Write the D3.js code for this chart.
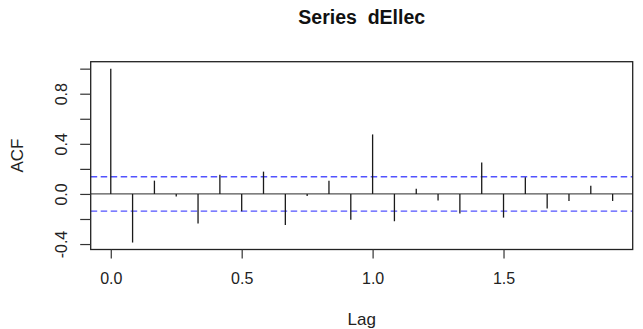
<!DOCTYPE html>
<html>
<head>
<meta charset="utf-8">
<script src="https://cdn.jsdelivr.net/npm/d3@7"></script>
<style>
  html, body { margin: 0; padding: 0; background: #ffffff; }
  svg { display: block; font-family: "Liberation Sans", Arial, sans-serif; }
  .keep-space { white-space: pre; }
</style>
</head>
<body>
<svg id="chart" width="643" height="329"></svg>
<script>
// Sample autocorrelation of the differenced electricity series (monthly, lag in years)
const lags = [0, 0.0833, 0.1667, 0.25, 0.3333, 0.4167, 0.5, 0.5833, 0.6667, 0.75, 0.8333, 0.9167,
              1, 1.0833, 1.1667, 1.25, 1.3333, 1.4167, 1.5, 1.5833, 1.6667, 1.75, 1.8333, 1.9167];
const acfValues = [1.0, -0.388, 0.106, -0.021, -0.236, 0.154, -0.138, 0.178, -0.247, -0.016, 0.106, -0.207,
                   0.475, -0.218, 0.042, -0.053, -0.157, 0.250, -0.189, 0.133, -0.117, -0.056, 0.066, -0.056];
const confLimit = 0.137;
const xTicks = [0, 0.5, 1.0, 1.5];
const yTicks = [-0.4, -0.2, 0.0, 0.2, 0.4, 0.6, 0.8, 1.0];
const yLabelled = [-0.4, 0.0, 0.4, 0.8];

const svg = d3.select("#chart");
const plot = { left: 90.7, right: 632.7, top: 61.7, bottom: 249.5 };

// R-style 4% padding around the data range
function padded(lo, hi) { const d = (hi - lo) * 0.04; return [lo - d, hi + d]; }
const xDom = padded(d3.min(lags), d3.max(lags));
const yDom = padded(Math.min(d3.min(acfValues), -confLimit), Math.max(d3.max(acfValues), confLimit));

const x = d3.scaleLinear().domain(xDom).range([plot.left, plot.right]);
const y = d3.scaleLinear().domain(yDom).range([plot.bottom, plot.top]);

// one decimal, plain hyphen for negatives
const fmt = d => d3.format(".1f")(d).replace("\u2212", "-");

// zero reference line
svg.append("line")
  .attr("x1", plot.left).attr("x2", plot.right)
  .attr("y1", y(0)).attr("y2", y(0))
  .attr("stroke", "#555").attr("stroke-width", 1.3);

// confidence bounds
svg.selectAll("line.ci").data([confLimit, -confLimit]).enter().append("line")
  .attr("class", "ci")
  .attr("x1", plot.left).attr("x2", plot.right)
  .attr("y1", d => y(d)).attr("y2", d => y(d))
  .attr("stroke", "#5252ff").attr("stroke-width", 1.4)
  .attr("stroke-dasharray", "6.5,3.5");

// ACF spikes
svg.selectAll("line.spike").data(lags).enter().append("line")
  .attr("class", "spike")
  .attr("x1", d => x(d)).attr("x2", d => x(d))
  .attr("y1", y(0)).attr("y2", (d, i) => y(acfValues[i]))
  .attr("stroke", "#1a1a1a").attr("stroke-width", 1.3);

// frame
svg.append("rect")
  .attr("x", plot.left).attr("y", plot.top)
  .attr("width", plot.right - plot.left).attr("height", plot.bottom - plot.top)
  .attr("fill", "none").attr("stroke", "#222").attr("stroke-width", 1.3);

// x axis
const xAxis = svg.append("g")
  .attr("transform", `translate(0,${plot.bottom})`)
  .call(d3.axisBottom(x).tickValues(xTicks).tickSizeInner(9).tickSizeOuter(0)
    .tickPadding(14).tickFormat(fmt));
xAxis.select(".domain").remove();
xAxis.selectAll(".tick line").attr("stroke", "#333").attr("stroke-width", 1.2);
xAxis.selectAll(".tick text")
  .attr("font-size", 16).attr("fill", "#222")
  .attr("font-family", "Liberation Sans, Arial, sans-serif");

// y axis
const yAxis = svg.append("g")
  .attr("transform", `translate(${plot.left},0)`)
  .call(d3.axisLeft(y).tickValues(yTicks).tickSizeInner(10.5).tickSizeOuter(0)
    .tickFormat(d => yLabelled.some(v => Math.abs(v - d) < 1e-9) ? fmt(d) : ""));
yAxis.select(".domain").remove();
yAxis.selectAll(".tick line").attr("stroke", "#333").attr("stroke-width", 1.2);
yAxis.selectAll(".tick text")
  .attr("font-size", 16).attr("fill", "#222")
  .attr("font-family", "Liberation Sans, Arial, sans-serif")
  .attr("text-anchor", "middle")
  .attr("x", 0).attr("dy", 0)
  .attr("transform", "translate(-24,0) rotate(-90)");

// titles
svg.append("text")
  .attr("class", "keep-space")
  .attr("x", (plot.left + plot.right) / 2).attr("y", 23.5)
  .attr("text-anchor", "middle")
  .attr("font-size", 19.5).attr("font-weight", "bold").attr("fill", "#111")
  .text("Series  dEllec");

svg.append("text")
  .attr("x", (plot.left + plot.right) / 2).attr("y", 325)
  .attr("text-anchor", "middle")
  .attr("font-size", 17).attr("fill", "#222")
  .text("Lag");

svg.append("text")
  .attr("transform", `translate(23,${(plot.top + plot.bottom) / 2}) rotate(-90)`)
  .attr("text-anchor", "middle")
  .attr("font-size", 17).attr("fill", "#222")
  .text("ACF");
</script>
</body>
</html>
